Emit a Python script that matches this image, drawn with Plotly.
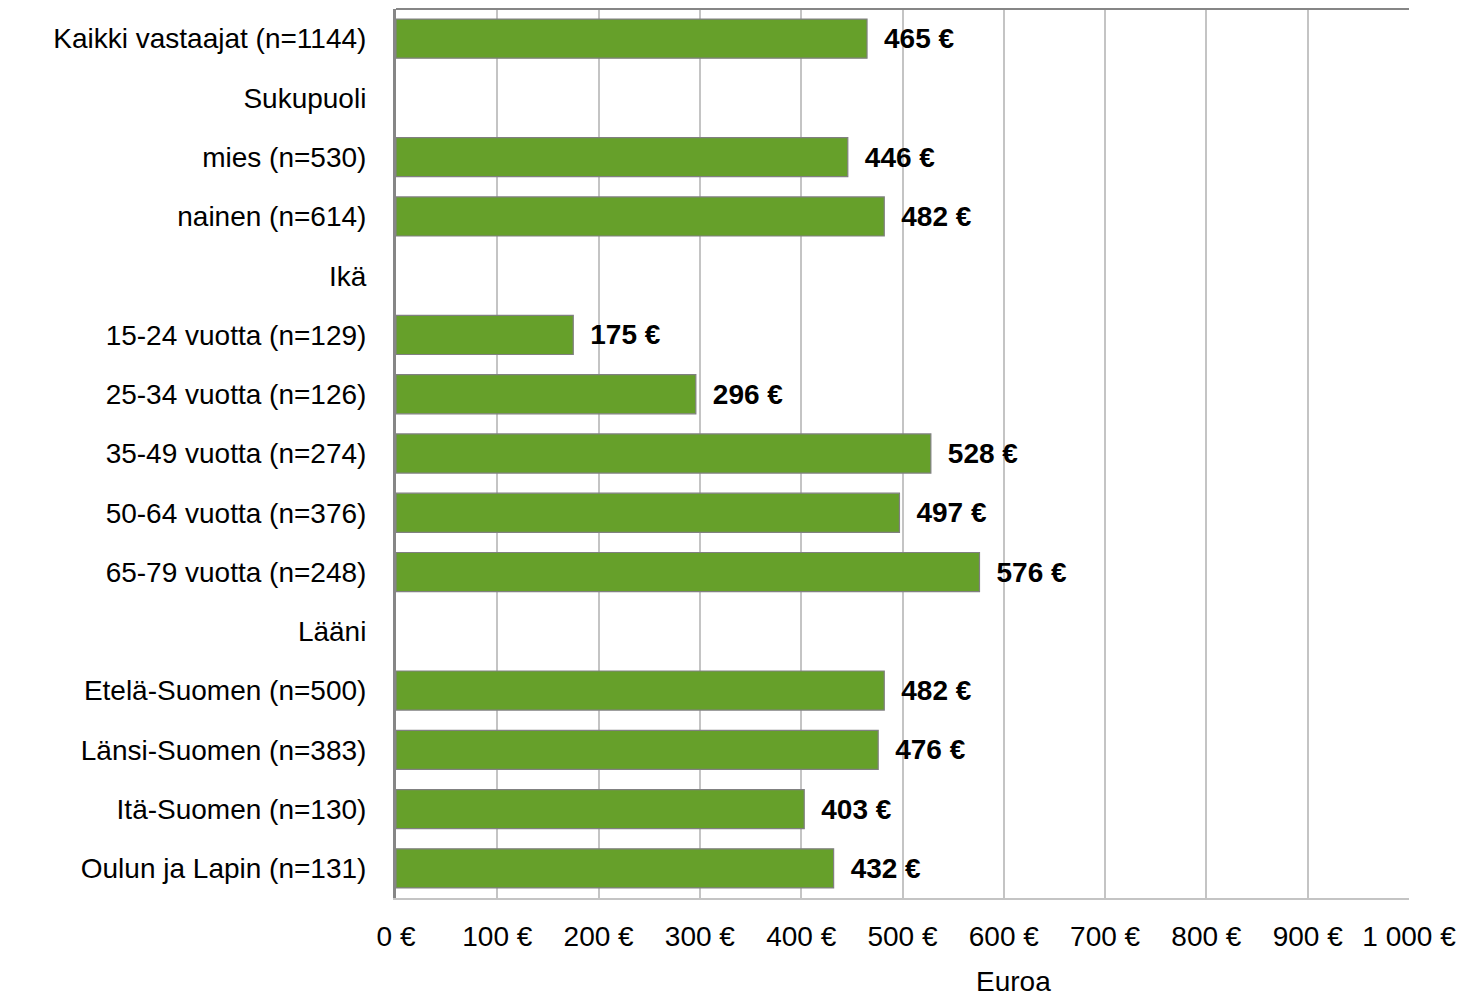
import plotly.graph_objects as go

categories = [
    "Kaikki vastaajat (n=1144)", "Sukupuoli", "mies (n=530)", "nainen (n=614)",
    "Ikä", "15-24 vuotta (n=129)", "25-34 vuotta (n=126)", "35-49 vuotta (n=274)",
    "50-64 vuotta (n=376)", "65-79 vuotta (n=248)", "Lääni",
    "Etelä-Suomen (n=500)", "Länsi-Suomen (n=383)", "Itä-Suomen (n=130)",
    "Oulun ja Lapin (n=131)",
]
values = [465, None, 446, 482, None, 175, 296, 528, 497, 576, None, 482, 476, 403, 432]
tick_vals = [0, 100, 200, 300, 400, 500, 600, 700, 800, 900, 1000]
tick_text = ["0 €", "100 €", "200 €", "300 €", "400 €", "500 €", "600 €",
             "700 €", "800 €", "900 €", "1 000 €"]
axis_title = "Euroa"

labels = [f"\u2002{v} €" if v is not None else "" for v in values]
FONT = "Liberation Sans, Arial, sans-serif"

fig = go.Figure(go.Bar(
    y=categories, x=values, orientation="h",
    marker=dict(color="#66A02A", line=dict(color="#808080", width=1.2)),
    width=0.66,
    text=labels, textposition="outside", cliponaxis=False,
    textfont=dict(family=FONT, size=28, color="black", weight="bold"),
    hoverinfo="skip",
))

fig.update_layout(
    width=1470, height=994,
    margin=dict(l=388, r=69, t=1, b=104),
    plot_bgcolor="white", paper_bgcolor="white",
    font=dict(family=FONT, size=28, color="black"),
    showlegend=False,
    shapes=[dict(type="line", xref="paper", yref="paper", x0=0, x1=1, y0=1, y1=1,
                 line=dict(color="#868686", width=2))],
    annotations=[dict(text=axis_title, xref="paper", yref="paper",
                      x=0.61, y=-0.094, xanchor="center", yanchor="middle",
                      showarrow=False, font=dict(size=28, family=FONT, color="black"))],
)
fig.update_xaxes(range=[0, 1000], tickvals=tick_vals, ticktext=tick_text,
                 showgrid=True, gridcolor="#C4C4C4", gridwidth=2,
                 zeroline=False, showline=True, linecolor="#C4C4C4", linewidth=2,
                 mirror=False, ticks="", ticklabelstandoff=12)
fig.update_yaxes(autorange="reversed", showgrid=False, showline=True,
                 linecolor="#868686", linewidth=3, ticks="", ticklabelstandoff=21)

fig.write_html("out.html")
